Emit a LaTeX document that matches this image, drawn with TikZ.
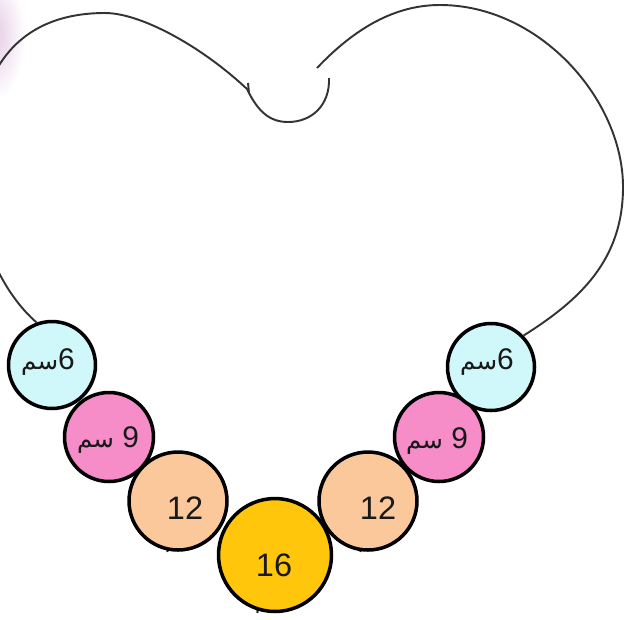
\documentclass[tikz,border=0pt]{standalone}
\usepackage{fontspec}
\setmainfont{Liberation Sans}
\newfontfamily\arabicfont[Script=Arabic]{DejaVu Sans}
\TeXXeTstate=1
\usetikzlibrary{shadings}
\definecolor{cyanbd}{RGB}{208,247,250}
\definecolor{pinkbd}{RGB}{246,140,200}
\definecolor{peachbd}{RGB}{250,200,155}
\definecolor{goldbd}{RGB}{255,198,12}
\tikzset{
  bead/.style={circle,draw=black,line width=2pt,inner sep=0pt},
  str/.style={line width=1.1pt,black!80},
  num/.style={text=black!90,font=\fontsize{17}{19}\selectfont,inner sep=0pt},
  bignum/.style={num,font=\fontsize{18.5}{21}\selectfont},
  unit/.style={text=black!85,font=\arabicfont\fontsize{12}{14}\selectfont,inner sep=0pt,anchor=base}
}
\newcommand{\smunit}{{\arabicfont\fontsize{14}{16}\selectfont\beginR سم\endR}}

\begin{document}
\begin{tikzpicture}[x=0.02cm,y=-0.02cm]
\useasboundingbox (0,0) rectangle (624,619);
\clip (0,0) rectangle (624,619);
\shade[inner color=violet!20,outer color=white] (-5,35) ellipse (30 and 65);
% units hidden behind the big beads
\node[unit] (u12l) at (181,547) {\beginR سم\endR};
\node[unit] (u16) at (271,608) {\beginR سم\endR};
\node[unit] (u12r) at (374,547) {\beginR سم\endR};
% beads
\node[bead,fill=cyanbd,minimum size=1.74cm] (l6) at (52,365) {};
\node[bead,fill=pinkbd,minimum size=1.78cm] (l9) at (109,437) {};
\node[bead,fill=peachbd,minimum size=1.96cm] (l12) at (178,501) {};
\node[bead,fill=goldbd,minimum size=2.26cm] (c16) at (275,555) {};
\node[bead,fill=peachbd,minimum size=1.96cm] (r12) at (368,501) {};
\node[bead,fill=pinkbd,minimum size=1.78cm] (r9) at (439,437) {};
\node[bead,fill=cyanbd,minimum size=1.74cm] (r6) at (491,367) {};
% labels
\node[num] (l6t) at (48,362) {\smunit6};
\node[num] (l9t) at (108,440) {\smunit\ 9};
\node[bignum] (l12t) at (185,508) {12};
\node[bignum] (c16t) at (274,565) {16};
\node[bignum] (r12t) at (378,508) {12};
\node[num] (r9t) at (437,441) {\smunit\ 9};
\node[num] (r6t) at (487,362) {\smunit6};
% the string
\draw[str] (l6.110) .. controls (5,295) and (-25,240) .. (-25,170) .. controls (-25,50) and (35,13) .. (105,13) .. controls (140,13) and (200,45) .. (247,89) .. controls (258,112) and (270,122) .. (288,122) .. controls (312,122) and (330,105) .. (329,78);
\draw[str] (248,83) -- (249,93);
\draw[str] (317,68) .. controls (355,28) and (395,5) .. (440,5) .. controls (540,5) and (623,100) .. (623,187) .. controls (623,260) and (580,300) .. (r6.44);
\end{tikzpicture}
\end{document}
